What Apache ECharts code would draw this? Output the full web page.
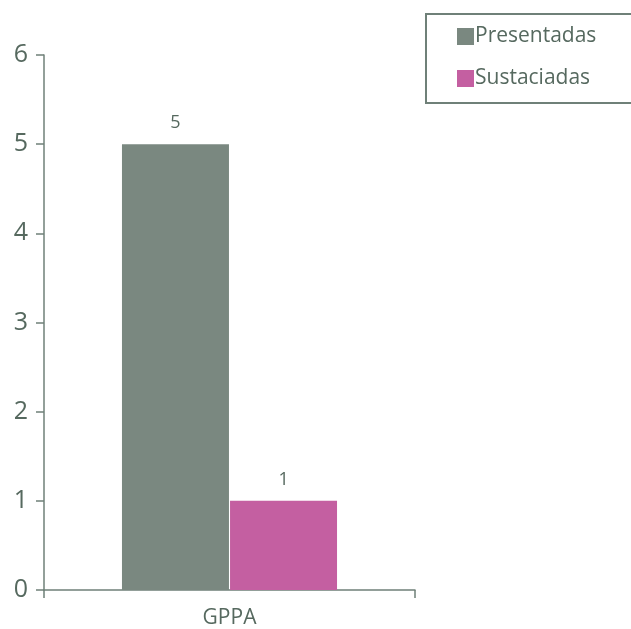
<!DOCTYPE html>
<html><head><meta charset="utf-8">
<script src="https://cdn.jsdelivr.net/npm/echarts@6/dist/echarts.min.js"></script>
<style>html,body{margin:0;padding:0;background:#fff}#c{width:631px;height:629px}</style>
</head><body><div id="c"></div>
<script>
const categories = ['GPPA'];
const presentadas = [5];
const sustaciadas = [1];
const seriesNames = ['Presentadas', 'Sustaciadas'];
const yTicks = [0, 1, 2, 3, 4, 5, 6];

const txt = '#56695f';
const axisCol = '#6f8078';
const chart = echarts.init(document.getElementById('c'));
chart.setOption({
  animation: false,
  textStyle: { fontFamily: 'Open Sans' },
  grid: { left: 44, right: 216, top: 55, bottom: 39 },
  graphic: [{
    type: 'rect', left: 425, top: 13,
    shape: { width: 220, height: 89 },
    style: { fill: '#fff', stroke: axisCol, lineWidth: 2 }, z: 0
  }],
  legend: {
    orient: 'vertical', left: 452, top: 21, itemWidth: 17, itemHeight: 17, itemGap: 21,
    icon: 'rect', z: 10,
    textStyle: { color: txt, fontSize: 21, fontFamily: 'Open Sans', padding: [0, 0, 0, -4] },
    data: seriesNames
  },
  xAxis: {
    type: 'category', data: categories,
    axisLine: { lineStyle: { color: axisCol, width: 1.5 } },
    axisTick: { show: true, alignWithLabel: false, length: 8, inside: false, lineStyle: { color: axisCol, width: 1.5 } },
    axisLabel: { color: txt, fontSize: 21, margin: 18 }
  },
  yAxis: {
    type: 'value', min: yTicks[0], max: yTicks[yTicks.length - 1], interval: 1,
    axisLine: { show: true, lineStyle: { color: axisCol, width: 1.5 } },
    axisTick: { show: true, length: 8, lineStyle: { color: axisCol, width: 1.5 } },
    axisLabel: { color: txt, fontSize: 25, margin: 16 },
    splitLine: { show: false }
  },
  series: [
    {
      name: seriesNames[0], type: 'bar', data: presentadas, barWidth: 107, barGap: '1%',
      itemStyle: { color: '#7a8880' },
      label: { show: true, position: 'top', distance: 12, color: txt, fontSize: 18 }
    },
    {
      name: seriesNames[1], type: 'bar', data: sustaciadas, barWidth: 107,
      itemStyle: { color: '#c45fa1' },
      label: { show: true, position: 'top', distance: 12, color: txt, fontSize: 18 }
    }
  ]
});
</script></body></html>
